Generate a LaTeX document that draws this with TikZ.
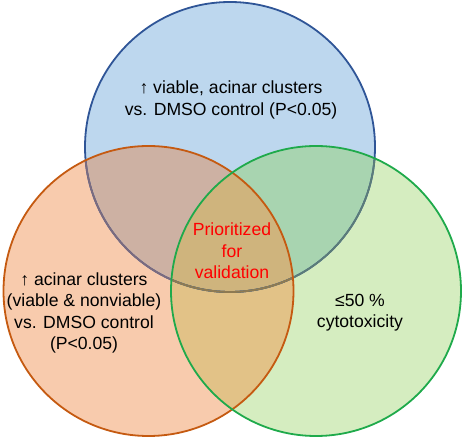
\documentclass[tikz,border=0pt]{standalone}
\usepackage{fontspec}
\setmainfont{Liberation Sans}
\definecolor{blueF}{HTML}{BDD7EE}
\definecolor{blueL}{HTML}{2F5597}
\definecolor{orangeF}{HTML}{F8CBAD}
\definecolor{orangeL}{HTML}{C55A11}
\definecolor{greenF}{HTML}{D5EDC0}
\definecolor{greenL}{HTML}{1FAA4B}
\definecolor{abF}{HTML}{CDB1A3}
\definecolor{acF}{HTML}{A8D4B0}
\definecolor{bcF}{HTML}{E2C287}
\definecolor{abcF}{HTML}{CFB47D}
\definecolor{muteB}{HTML}{7C6B7E}
\definecolor{muteC}{HTML}{5C7C78}
\definecolor{muteBC}{HTML}{8E7A52}
\definecolor{redT}{HTML}{FF0000}
\tikzset{
  outline/.style={line width=1.8pt},
  lbl/.style={align=center, font=\fontsize{17.6}{21.3}\selectfont, inner sep=0pt, text=black},
}
\begin{document}
\begin{tikzpicture}[x=1pt,y=-1pt]
\useasboundingbox (0,0) rectangle (464,438);
\def\A{(230,147) circle[radius=145pt]}
\def\B{(148.5,291) circle[radius=145pt]}
\def\C{(316,291) circle[radius=145pt]}
% base fills
\fill[blueF] \A;
\fill[orangeF] \B;
\fill[greenF] \C;
\begin{scope}\clip \A; \fill[abF] \B; \end{scope}
\begin{scope}\clip \A; \fill[acF] \C; \end{scope}
\begin{scope}\clip \B; \fill[bcF] \C; \end{scope}
\begin{scope}\clip \A; \clip \B; \fill[abcF] \C; \end{scope}
% blue outline, muted where covered
\draw[outline, blueL] \A;
\begin{scope}\clip \B; \draw[outline, muteB] \A; \end{scope}
\begin{scope}\clip \C; \draw[outline, muteC] \A; \end{scope}
\begin{scope}\clip \B; \clip \C; \draw[outline, muteBC] \A; \end{scope}
% orange and green outlines
\draw[outline, orangeL] \B;
\draw[outline, greenL] \C;
% labels
\node[lbl] (ta) at (231,100) {↑ viable, acinar clusters\\vs. DMSO control (P<0.05)};
\node[lbl] (tb) at (84,313) {↑ acinar clusters\\(viable \& nonviable)\\vs. DMSO control\\(P<0.05)};
\node[lbl] (tc) at (360,313) {≤50 \%\\cytotoxicity};
\node[lbl, text=redT] (td) at (232,251) {Prioritized\\for\\validation};
\end{tikzpicture}
\end{document}
